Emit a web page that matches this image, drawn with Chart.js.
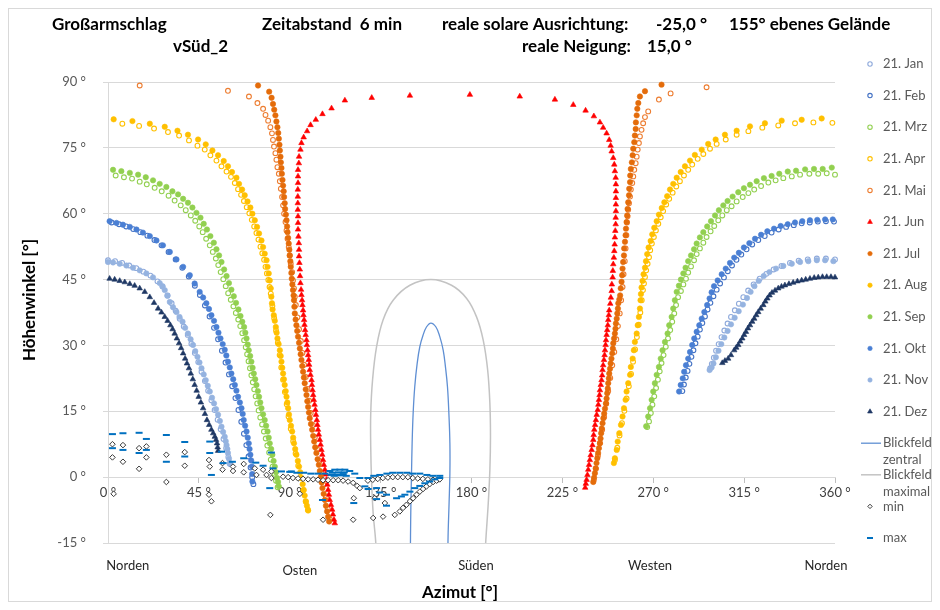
<!DOCTYPE html>
<html>
<head>
<meta charset="utf-8">
<script src="https://cdn.jsdelivr.net/npm/chart.js@4/dist/chart.umd.min.js"></script>
<style>
html,body{margin:0;padding:0;background:#fff}
#wrap{position:relative;width:940px;height:610px}
</style>
</head>
<body>
<div id="wrap"><canvas id="c" width="940" height="610"></canvas></div>
<script>
// Sun paths on the 21st of each month: [azimuth °, elevation °] pairs, 6-minute steps.
const janLeft = [[0,49.4],[3.5,49.2],[7.0,48.8],[10.5,48.2],[14.0,47.6],[17.5,46.8],[21.0,45.9],[24.5,44.6],[27.0,43.4],[29.5,41.4],[31.5,39.6],[33.5,37.9],[35.5,36.1],[37.5,34.3],[39.5,32.4],[41.3,30.4],[43.0,28.3],[44.7,26.2],[46.3,24.0],[48.0,21.9],[49.6,19.7],[51.2,17.5],[52.8,15.3],[54.3,13.1],[55.8,10.9],[57.2,8.7],[58.5,6.6],[59.6,4.6],[60.4,3.2]];
const janRight = [[360.0,49.6],[355.5,49.8],[351.0,49.8],[346.5,49.6],[342.0,49.3],[337.7,48.8],[333.5,48.1],[329.6,47.3],[326.0,46.3],[322.7,45.2],[319.7,43.9],[317.0,42.5],[314.6,41.0],[312.4,39.5],[310.4,38.0],[308.5,36.5],[306.8,35.0],[305.2,33.4],[303.8,31.9],[302.4,30.3],[301.1,28.8],[300.0,27.2],[299.0,25.8],[298.2,24.8]];

const febLeft = [[1.8,58.0],[5.5,57.6],[9.0,57.1],[12.5,56.5],[16.0,55.8],[19.5,55.0],[23.0,54.0],[26.5,52.8],[30.0,51.3],[33.5,49.6],[36.8,47.7],[40.0,45.7],[43.0,43.6],[45.5,41.5],[48.0,39.1],[50.3,36.6],[52.5,34.0],[54.5,31.4],[56.4,28.8],[58.2,26.1],[59.9,23.4],[61.5,20.7],[63.1,18.0],[64.6,15.3],[66.0,12.6],[67.3,9.9],[68.5,7.3],[69.6,4.7],[70.6,2.2],[71.4,0.0],[72.0,-1.6]];
const febRight = [[359.5,58.2],[355.5,58.3],[351.5,58.2],[347.5,58.0],[343.5,57.8],[339.6,57.4],[335.8,57.0],[332.1,56.4],[328.6,55.7],[325.2,54.9],[322.0,54.0],[319.0,53.0],[316.2,51.9],[313.6,50.7],[311.2,49.5],[309.0,48.2],[306.9,46.9],[305.0,45.5],[303.1,44.1],[301.4,42.7],[299.8,41.2],[298.3,39.7],[296.9,38.2],[295.6,36.6],[294.3,35.1],[293.1,33.6],[292.0,32.0],[290.9,30.5],[289.9,28.9],[288.9,27.4],[287.9,25.8],[287.0,24.2],[286.1,22.7],[285.2,21.1],[284.4,19.6]];

const mrzLeft = [[3.8,68.7],[7.9,68.3],[11.9,68.0],[15.7,67.3],[19.2,66.7],[23.1,65.9],[26.6,65.1],[30.0,64.1],[33.0,63.0],[36.0,61.9],[38.5,60.8],[41.0,59.6],[43.2,58.4],[45.2,57.1],[46.9,55.8],[48.6,54.3],[50.4,52.8],[51.9,51.3],[53.4,49.8],[54.6,48.3],[55.8,46.7],[57.1,45.1],[58.3,43.5],[59.5,41.9],[60.8,40.4],[62.1,38.9],[63.3,37.4],[64.5,35.9],[65.5,34.4],[66.5,32.8],[67.4,31.2],[68.2,29.6],[68.9,28.0],[69.6,26.4],[70.3,24.8],[71.0,23.2],[71.7,21.6],[72.4,20.0],[73.1,18.4],[73.9,16.8],[74.6,15.2],[75.4,13.6],[76.3,12.0],[77.2,10.4],[78.1,8.8],[78.9,7.2],[79.8,5.6],[80.6,4.0],[81.5,2.4],[82.4,0.8],[83.2,-0.8],[84.0,-2.3]];
const mrzRight = [[360.0,68.9],[355.9,69.2],[351.7,69.1],[347.3,69.1],[342.7,68.9],[338.6,68.5],[334.4,68.1],[330.6,67.6],[327.0,67.1],[323.4,66.3],[320.0,65.5],[317.1,64.7],[314.3,63.8],[311.3,62.8],[308.8,61.7],[306.4,60.8],[304.2,59.6],[302.2,58.5],[300.2,57.2],[298.4,56.0],[296.4,54.7],[294.8,53.4],[293.1,52.1],[291.5,50.8],[290.2,49.4],[288.7,48.0],[287.3,46.6],[286.2,45.2],[284.9,43.9],[283.7,42.4],[282.3,41.0],[281.3,39.2],[280.4,37.3],[279.4,35.4],[278.4,33.5],[277.3,31.6],[276.2,29.7],[275.1,27.8],[274.1,26.0],[273.2,24.1],[272.3,22.2],[271.4,20.3],[270.5,18.4],[269.6,16.5],[268.8,14.6],[267.9,12.7],[267.0,11.4]];

const aprLeft = [[7.1,80.5],[15.4,80.0],[22.8,79.4],[29.7,78.6],[35.2,77.8],[40.1,76.7],[44.3,75.5],[47.9,74.6],[50.7,73.3],[53.7,72.1],[56.2,70.8],[58.7,69.6],[60.9,68.4],[62.8,67.0],[64.4,65.6],[65.9,64.3],[67.3,62.9],[68.7,61.5],[70.0,60.1],[71.2,58.6],[72.4,57.1],[73.5,55.6],[74.5,54.1],[75.5,52.5],[76.4,51.0],[77.3,49.5],[78.0,47.9],[78.7,46.4],[79.4,44.9],[80.0,43.3],[80.6,41.8],[81.4,39.0],[82.3,36.2],[83.2,33.4],[84.1,30.6],[85.0,27.8],[85.8,25.0],[86.7,22.2],[87.6,19.4],[88.5,16.6],[89.4,13.8],[90.5,11.0],[91.7,8.2],[92.9,5.4],[94.2,2.6],[95.5,-0.2],[96.8,-3.0],[98.0,-5.6],[99.0,-7.4]];
const aprRight = [[358.7,80.7],[349.3,80.8],[340.2,80.6],[331.9,80.1],[324.0,79.6],[317.1,78.8],[311.3,78.0],[305.9,76.9],[301.4,75.9],[298.1,74.8],[294.8,73.6],[292.0,72.5],[289.3,71.2],[287.3,70.0],[285.2,68.7],[283.2,67.4],[281.4,66.2],[279.6,64.8],[277.9,63.4],[276.4,62.1],[274.9,60.6],[273.7,59.2],[272.5,57.7],[271.3,56.2],[270.3,54.7],[269.3,53.2],[268.5,51.7],[267.9,50.1],[267.2,48.6],[266.5,47.1],[265.9,45.6],[265.4,44.1],[264.9,42.6],[264.3,40.3],[263.6,37.5],[262.8,34.7],[261.9,31.9],[261.0,29.1],[260.0,26.3],[259.0,23.5],[257.9,20.7],[256.8,17.9],[255.7,15.1],[254.5,12.3],[253.3,9.5],[252.2,6.7],[251.0,3.9]];

const maiLeft = [[15.7,89.2],[59.4,88.0],[69.8,86.7],[74.0,85.2],[76.8,83.9],[78.0,82.5],[79.3,81.2],[80.4,79.7],[81.2,78.3],[81.7,76.8],[82.2,75.3],[82.9,73.8],[83.4,72.3],[83.9,70.6],[84.6,69.1],[85.1,67.4],[85.6,65.7],[86.2,63.8],[86.7,61.9],[87.2,60.0],[87.9,58.1],[88.4,56.2],[88.9,54.3],[89.5,52.4],[90.0,50.5],[90.5,48.6],[91.2,46.7],[91.6,44.8],[92.1,43.0],[92.5,41.1],[93.0,39.2],[93.8,36.4],[94.6,33.7],[95.5,31.0],[96.3,28.3],[97.1,25.6],[97.9,22.8],[98.8,20.1],[99.6,17.4],[100.4,14.6],[101.4,11.9],[102.4,9.1],[103.5,6.4],[104.7,3.7],[105.7,1.0],[106.7,-1.7],[107.9,-4.5],[108.8,-7.2],[109.8,-9.5]];
const maiRight = [[296.4,88.8],[278.6,87.4],[272.8,86.0],[267.5,83.3],[265.9,82.0],[265.0,80.6],[264.2,79.1],[263.4,77.6],[262.9,76.1],[262.3,74.6],[261.8,73.0],[261.3,71.5],[260.6,70.0],[260.1,68.5],[259.6,67.0],[258.9,65.5],[258.5,63.9],[258.0,62.4],[257.6,60.9],[257.3,59.4],[257.0,58.0],[256.7,55.1],[256.3,52.1],[255.9,49.2],[255.3,46.2],[254.8,43.3],[254.1,40.3],[253.4,37.3],[252.5,34.4],[251.7,31.4],[250.7,28.5],[249.7,25.5],[248.7,22.6],[247.7,19.6],[246.7,16.7],[245.7,13.7],[244.7,10.8],[243.6,7.8],[242.6,4.9],[241.6,1.9],[240.6,-0.6]];

const jun = [[112.3,-10.5],[111.9,-9.7],[111.4,-8.5],[111.0,-7.4],[110.4,-6.3],[109.8,-5.2],[109.4,-4.0],[109.0,-2.9],[108.6,-1.7],[108.2,-0.6],[107.8,0.6],[107.4,1.7],[106.9,2.8],[106.5,3.9],[106.1,5.1],[105.7,6.2],[105.3,7.4],[104.9,8.5],[104.4,9.7],[104.0,10.8],[103.7,11.9],[103.4,13.0],[103.0,14.2],[102.7,15.3],[102.3,16.5],[101.9,17.6],[101.6,18.7],[101.3,19.8],[101.0,21.0],[100.8,22.1],[100.3,23.3],[99.9,24.4],[99.6,25.6],[99.4,26.7],[99.1,27.8],[98.8,28.9],[98.5,30.1],[98.3,31.2],[97.9,32.4],[97.6,33.5],[97.3,34.7],[97.1,35.8],[96.8,36.9],[96.6,38.0],[96.3,39.2],[96.1,40.3],[95.8,41.5],[95.6,42.7],[95.3,44.2],[95.1,45.8],[95.0,47.3],[94.8,48.8],[94.6,50.3],[94.6,51.8],[94.5,53.3],[94.3,54.8],[94.1,56.4],[94.1,57.9],[94.1,59.4],[94.0,60.9],[94.0,62.4],[94.0,63.9],[94.0,65.5],[94.1,67.0],[94.1,68.5],[94.1,70.0],[94.5,71.5],[94.6,73.0],[95.3,74.6],[95.8,76.1],[96.9,77.4],[98.6,78.8],[100.3,80.2],[102.9,81.4],[106.2,82.7],[110.7,84.0],[117.3,85.8],[130.6,86.4],[149.5,86.9],[179.2,87.1],[203.9,86.7],[221.3,86.0],[230.4,84.8],[236.5,83.5],[240.6,82.2],[243.6,80.8],[245.2,79.6],[246.9,78.3],[248.2,76.8],[248.9,75.5],[249.4,74.2],[250.2,72.7],[250.7,71.2],[251.0,69.7],[251.4,68.2],[251.5,66.7],[251.5,65.1],[251.5,63.6],[251.5,62.1],[251.5,60.6],[251.4,59.1],[251.4,57.6],[251.2,56.1],[251.0,54.6],[250.9,53.0],[250.7,51.5],[250.5,50.0],[250.2,48.5],[250.0,47.0],[249.9,45.5],[249.5,43.9],[249.4,42.4],[249.0,40.9],[248.7,39.5],[248.2,38.0],[248.0,36.9],[247.7,35.8],[247.5,34.6],[247.2,33.5],[246.9,32.4],[246.6,31.2],[246.4,30.1],[246.1,28.9],[245.9,27.8],[245.6,26.7],[245.2,25.5],[244.9,24.4],[244.7,23.2],[244.4,22.1],[244.0,21.0],[243.6,19.8],[243.4,18.7],[243.1,17.6],[242.8,16.5],[242.5,15.3],[242.0,14.2],[241.6,13.0],[241.2,11.9],[240.8,10.8],[240.5,9.6],[240.3,8.5],[239.9,7.3],[239.5,6.2],[239.0,5.0],[238.6,3.9],[238.2,2.8],[237.8,1.7],[237.4,0.5],[237.0,-0.6],[236.6,-1.5],[236.3,-2.4]];

const julLeft = [[74.3,89.2],[79.8,87.8],[81.0,86.4],[81.7,85.0],[82.3,83.7],[82.9,82.4],[83.4,81.0],[83.9,79.7],[84.3,78.4],[84.6,77.1],[84.9,75.7],[85.1,74.4],[85.4,73.0],[85.6,71.7],[85.9,70.4],[86.1,69.1],[86.4,67.7],[86.7,66.4],[87.0,65.1],[87.2,63.8],[87.5,62.4],[87.7,61.1],[88.1,59.8],[88.4,58.5],[88.7,57.1],[88.9,55.8],[89.2,54.5],[89.5,53.2],[89.8,51.8],[90.0,50.5],[90.3,49.2],[90.5,47.9],[90.8,46.5],[91.0,45.2],[91.3,43.9],[91.6,42.6],[91.9,41.4],[92.1,40.3],[92.3,38.8],[92.5,37.3],[92.9,35.9],[93.3,34.6],[93.7,33.3],[94.1,32.0],[94.6,30.6],[95.0,29.3],[95.4,28.0],[95.8,26.7],[96.2,25.3],[96.6,24.0],[97.0,22.7],[97.4,21.4],[97.9,20.0],[98.3,18.7],[98.7,17.3],[99.1,16.0],[99.5,14.7],[99.9,13.4],[100.5,12.1],[101.1,10.8],[101.6,9.4],[102.1,8.1],[102.6,6.8],[103.2,5.5],[103.8,4.1],[104.4,2.8],[104.9,1.4],[105.4,0.1],[105.8,-1.2],[106.2,-2.5],[106.8,-3.8],[107.4,-5.2],[107.9,-6.5],[108.5,-7.8],[109.0,-9.0],[109.5,-10.1]];
const julRight = [[274.1,89.4],[265.9,87.9],[263.4,86.7],[262.6,85.2],[262.1,83.9],[261.8,82.4],[261.4,80.8],[261.3,79.3],[260.9,77.8],[260.6,76.3],[260.1,74.8],[259.8,73.3],[259.4,71.7],[258.9,70.2],[258.6,68.7],[258.5,67.2],[258.1,65.7],[258.0,64.2],[257.6,62.6],[257.3,61.1],[257.1,59.6],[256.8,58.1],[256.5,56.6],[256.3,55.1],[256.0,53.6],[255.6,52.1],[255.5,50.5],[255.1,49.0],[254.8,47.5],[254.6,46.0],[254.3,44.5],[253.9,43.0],[253.6,41.4],[253.2,40.5],[252.7,39.6],[252.5,38.4],[252.2,37.3],[251.9,36.1],[251.5,35.0],[251.3,33.8],[251.0,32.7],[250.6,31.6],[250.2,30.5],[250.0,29.3],[249.7,28.2],[249.3,27.0],[248.9,25.9],[248.6,24.7],[248.2,23.6],[248.0,22.5],[247.7,21.4],[247.5,20.2],[247.2,19.1],[246.9,17.9],[246.6,16.8],[246.1,15.6],[245.7,14.5],[245.3,13.4],[244.9,12.3],[244.5,11.1],[244.2,10.0],[243.9,8.8],[243.6,7.7],[243.1,6.6],[242.7,5.5],[242.3,4.3],[241.9,3.2],[241.5,2.0],[241.1,0.9],[240.7,-0.1],[240.3,-1.1]];

const augLeft = [[2.8,81.5],[12.1,81.1],[20.7,80.5],[28.1,79.8],[34.4,78.9],[39.6,78.0],[44.6,76.9],[48.4,75.8],[51.7,74.4],[54.5,73.3],[57.3,72.0],[59.4,70.8],[61.4,69.5],[63.6,68.2],[64.9,66.8],[66.4,65.5],[67.7,64.2],[69.1,62.8],[70.5,61.4],[71.5,60.0],[72.7,58.5],[73.8,57.0],[74.8,55.5],[76.0,53.9],[76.8,52.4],[77.6,50.9],[78.5,49.4],[79.0,47.9],[79.6,46.4],[80.1,44.8],[80.6,43.0],[80.9,41.1],[81.2,39.6],[81.5,38.2],[82.1,36.9],[82.6,35.6],[83.1,34.2],[83.5,32.9],[83.9,31.6],[84.5,30.3],[85.1,28.9],[85.5,27.6],[85.9,26.3],[86.3,24.9],[86.7,23.6],[87.1,22.3],[87.5,21.0],[88.0,19.6],[88.4,18.3],[88.8,17.0],[89.2,15.7],[89.6,14.3],[90.0,13.0],[90.6,11.7],[91.2,10.4],[91.7,9.0],[92.1,7.7],[92.7,6.4],[93.3,5.1],[94.0,3.7],[94.6,2.4],[95.2,1.1],[95.8,-0.2],[96.4,-1.6],[96.9,-2.9],[97.4,-4.2],[97.9,-5.5],[98.5,-6.5],[99.1,-7.6]];
const augRight = [[353.4,81.7],[343.5,81.4],[333.6,81.2],[325.3,80.6],[317.9,79.9],[311.3,78.9],[305.5,78.0],[300.9,76.9],[297.2,75.9],[294.0,74.6],[290.6,73.4],[288.2,72.1],[285.7,70.8],[283.6,69.5],[281.6,68.2],[279.9,66.8],[278.3,65.5],[276.9,64.0],[275.5,62.6],[274.2,61.3],[272.8,59.8],[271.7,58.3],[270.5,56.8],[269.5,55.3],[268.7,53.8],[267.7,52.3],[267.0,50.8],[266.4,49.2],[265.9,47.7],[265.2,46.2],[264.7,44.7],[264.2,43.2],[263.9,41.7],[263.7,40.3],[263.4,38.4],[262.9,36.5],[262.3,34.6],[261.8,32.7],[260.9,30.8],[260.4,28.9],[259.8,27.0],[258.9,25.1],[258.5,23.3],[257.6,21.4],[256.8,19.5],[256.3,17.6],[255.5,15.7],[254.8,13.8],[254.0,11.9],[253.2,10.0],[252.4,8.1],[251.9,6.2],[251.0,4.3],[250.5,3.2]];

const sepLeft = [[2.5,70.0],[6.6,69.7],[10.8,69.3],[14.9,68.9],[18.7,68.3],[22.3,67.6],[25.6,66.8],[28.9,66.1],[31.9,65.1],[34.7,64.4],[37.2,63.4],[39.6,62.5],[41.8,61.4],[43.8,60.2],[45.8,59.1],[47.4,57.7],[49.0,56.4],[50.7,54.9],[52.4,53.4],[53.7,51.9],[55.0,50.5],[56.2,49.0],[57.5,47.3],[58.7,45.8],[59.9,44.2],[61.1,42.7],[62.3,41.2],[63.4,39.7],[64.6,38.2],[65.6,36.7],[66.5,35.4],[67.4,34.2],[68.0,32.9],[68.6,31.6],[69.2,30.2],[69.7,28.9],[70.4,27.6],[71.0,26.3],[71.6,24.9],[72.2,23.6],[72.9,22.3],[73.5,21.0],[74.2,19.6],[74.8,18.3],[75.4,17.0],[76.0,15.7],[76.8,14.3],[77.6,13.0],[78.3,11.7],[79.0,10.4],[79.6,9.0],[80.1,7.7],[80.8,6.4],[81.4,5.1],[82.0,3.7],[82.6,2.4],[83.2,1.1],[83.7,-0.2],[84.2,-1.1],[84.6,-2.1]];
const sepRight = [[358.4,70.5],[353.9,70.2],[349.6,70.2],[345.2,70.1],[340.7,69.8],[336.6,69.6],[332.4,69.1],[328.6,68.6],[324.8,68.1],[321.2,67.4],[317.9,66.6],[314.9,65.8],[312.1,64.9],[309.3,63.9],[306.8,62.9],[304.7,61.9],[302.5,60.8],[300.6,59.6],[298.6,58.3],[296.7,57.1],[294.8,55.8],[293.1,54.6],[291.5,53.2],[290.2,51.9],[288.7,50.5],[287.3,49.2],[286.0,47.7],[284.9,46.4],[283.7,45.0],[282.7,43.6],[281.6,42.2],[280.7,40.3],[279.9,38.4],[279.1,36.5],[277.9,34.6],[277.1,32.7],[275.8,30.8],[274.6,28.9],[273.7,27.0],[272.8,25.1],[271.7,23.3],[270.8,21.4],[270.0,19.5],[269.2,17.6],[268.4,15.7],[267.5,13.8],[266.5,11.6]];

const oktLeft = [[0.8,58.3],[4.2,57.9],[7.4,57.5],[10.8,57.0],[14.1,56.4],[17.3,55.7],[20.7,54.9],[24.0,53.9],[27.2,52.8],[30.6,51.3],[33.9,49.6],[37.2,47.9],[40.5,46.0],[42.9,44.1],[45.4,42.2],[47.1,40.9],[48.7,39.6],[50.0,38.3],[51.2,36.9],[52.5,35.6],[53.7,34.2],[54.7,32.9],[55.7,31.6],[56.8,30.3],[57.8,29.0],[58.6,27.7],[59.4,26.3],[60.3,25.0],[61.1,23.6],[62.0,22.3],[62.8,21.0],[63.6,19.7],[64.4,18.3],[65.3,17.0],[66.1,15.7],[66.7,14.4],[67.2,13.0],[67.9,11.7],[68.6,10.4],[69.2,9.0],[69.7,7.7],[70.1,6.4],[70.5,5.1],[70.9,3.8],[71.3,2.4],[71.4,0.7],[71.5,-1.0]];
const oktRight = [[358.9,58.7],[355.1,58.7],[351.2,58.6],[347.6,58.5],[343.8,58.3],[340.2,58.0],[336.6,57.6],[333.1,57.2],[329.8,56.6],[326.5,56.0],[323.4,55.2],[320.4,54.3],[317.6,53.3],[314.9,52.3],[312.4,51.1],[310.1,50.0],[308.0,48.8],[305.9,47.5],[303.9,46.2],[301.9,44.8],[300.1,43.5],[298.9,42.1],[297.9,40.7],[296.7,39.2],[295.3,37.6],[294.0,36.1],[292.8,34.6],[291.5,33.1],[290.3,31.6],[289.3,30.1],[288.2,28.5],[287.3,27.0],[286.2,25.5],[285.3,24.0],[284.6,22.5],[283.6,21.0],[282.8,19.5]];

const novLeft = [[0,49.0],[2.5,48.9],[5.8,48.6],[9.1,48.2],[12.4,47.7],[15.7,47.1],[19.0,46.4],[22.3,45.5],[25.6,44.2],[27.0,43.5],[28.1,42.6],[29.4,41.3],[30.6,39.9],[32.2,38.7],[33.9,37.6],[35.4,36.5],[36.9,35.4],[38.2,34.0],[39.6,32.7],[40.9,31.4],[42.1,30.1],[43.2,28.7],[44.3,27.4],[45.3,26.1],[46.3,24.8],[47.4,23.4],[48.4,22.1],[49.4,20.8],[50.4,19.5],[51.5,18.1],[52.5,16.8],[53.5,15.5],[54.5,14.2],[55.4,12.8],[56.2,11.5],[57.0,10.3],[57.8,9.2],[58.3,8.2],[58.7,7.3],[59.1,6.4],[59.4,5.5],[59.9,4.2],[60.3,3.0]];
const novRight = [[359.2,49.2],[355.1,49.4],[351.0,49.4],[346.8,49.2],[342.7,49.0],[338.6,48.6],[334.4,48.1],[330.8,47.5],[327.5,46.7],[324.7,45.8],[322.2,44.7],[320.1,43.5],[318.2,42.2],[316.4,40.8],[314.4,39.3],[312.3,37.8],[310.3,36.3],[308.5,34.8],[306.8,33.3],[305.2,31.8],[303.7,30.3],[302.3,28.8],[301.0,27.3],[299.8,25.9],[298.9,25.0],[297.9,24.4]];

const decLeft = [[0.8,45.2],[3.3,45.0],[5.8,44.7],[8.3,44.4],[10.8,44.0],[13.2,43.6],[15.7,43.0],[18.2,42.2],[20.7,41.0],[22.8,39.7],[24.8,38.4],[26.5,37.5],[28.1,36.5],[29.5,35.6],[30.9,34.6],[32.0,33.7],[33.0,32.7],[34.1,31.6],[35.2,30.5],[36.2,29.4],[37.2,28.2],[38.2,27.0],[39.1,25.9],[40.1,24.8],[41.0,23.6],[42.0,22.3],[42.9,21.0],[43.9,19.7],[44.9,18.3],[46.0,17.0],[47.1,15.7],[48.0,14.4],[49.0,13.0],[50.1,11.9],[51.2,10.8],[52.1,10.0],[52.9,9.2],[53.5,8.5],[54.0,7.7],[54.3,6.8],[54.5,6.0]];
const decRight = [[304.2,26.0],[305.5,26.5],[307.1,27.0],[308.5,27.8],[310.1,28.9],[311.1,29.5],[312.1,30.1],[313.1,30.9],[314.1,31.6],[315.0,32.4],[315.9,33.1],[316.9,33.9],[317.9,34.6],[319.0,35.4],[320.0,36.1],[321.0,36.9],[322.0,37.6],[323.2,38.4],[324.5,39.2],[325.5,40.0],[326.5,40.7],[327.6,41.4],[328.8,42.0],[330.3,42.5],[331.9,43.0],[333.5,43.4],[335.2,43.7],[337.2,44.0],[339.3,44.3],[341.4,44.6],[343.5,44.8],[345.5,45.0],[347.6,45.2],[349.7,45.4],[351.7,45.5],[353.8,45.6],[355.9,45.6],[358.0,45.6],[360.0,45.5]];

// Field-of-view outlines
const viewCentral = [[149.7,-18.8],[149.8,-13.5],[150.0,-5.9],[150.3,0.9],[150.6,7.7],[151.1,14.5],[151.9,20.6],[153.1,25.9],[154.4,29.7],[156.0,32.3],[157.7,34.2],[159.9,35.1],[162.4,34.2],[164.3,32.0],[166.0,28.9],[167.1,25.1],[168.1,20.6],[168.8,14.5],[169.3,7.7],[169.3,0.9],[168.9,-5.9],[168.4,-13.5],[168.3,-18.8]];
const viewMaximal = [[132.9,-18.8],[132.5,-14.3],[131.3,-8.2],[130.5,-0.6],[130.1,7.0],[130.1,14.5],[131.0,22.1],[133.0,29.7],[136.2,35.8],[141.2,40.3],[149.5,43.7],[159.9,45.0],[170.1,43.7],[177.6,40.7],[182.5,36.5],[185.8,31.2],[188.0,24.4],[189.1,16.8],[189.4,9.2],[189.1,1.7],[188.3,-5.9],[187.1,-14.3],[186.6,-18.8]];

// Horizon limits
const minPts = [[2.2,7.5],[2.2,4.5],[2.8,-3.8],[7.4,7.3],[7.4,3.5],[15.4,6.6],[15.4,1.9],[19.0,7.0],[19.0,4.5],[28.9,5.1],[28.9,-1.1],[38.0,5.7],[38.0,2.6],[50.0,3.9],[50.4,2.4],[50.0,-4.0],[51.2,-5.5],[56.7,3.2],[56.7,1.7],[61.9,2.4],[61.9,1.4],[67.2,3.0],[67.2,1.1],[72.7,2.0],[73.5,0.5],[76.8,1.7],[78.5,0.5],[80.9,1.3],[80.9,-0.2],[80.4,-8.6],[95.0,-3.8],
[86.7,0.1],[89.2,0.0],[91.6,-0.2],[94.1,-0.3],[96.6,-0.4],[99.1,-0.5],[101.6,-0.5],[104.0,-0.6],[106.5,-0.7],[109.0,-0.7],[111.5,-0.7],[114.0,-0.7],[116.4,-0.8],[118.9,-1.0],[121.4,-1.3],[123.4,-2.0],
[128.7,-0.8],[131.1,-0.6],[133.6,-0.4],[136.1,-0.2],[138.6,-0.1],[141.0,0.0],[143.5,0.0],[146.0,0.0],[148.5,0.0],[150.9,-0.2],[153.4,-0.3],[155.9,-0.4],[158.4,-0.5],[160.9,-0.6],[163.3,-0.6],
[142.0,-8.6],[144.5,-7.8],[146.1,-7.0],[147.8,-6.3],[149.5,-5.5],[151.1,-4.8],[152.8,-4.0],[154.4,-3.3],[156.0,-2.7],[157.7,-2.1],[159.3,-1.6],[161.0,-1.1],[162.7,-0.8],[164.3,-0.5],
[106.5,-9.7],[121.4,-9.7],[131.3,-9.3],[136.2,-9.0],[121.7,-4.8],[124.7,-2.5],[132.1,-4.8],[137.1,-5.9]];
const maxPts = [[2.2,9.8],[2.2,6.6],[7.4,10.0],[7.4,6.2],[15.4,10.1],[15.4,5.5],[19.0,8.7],[19.0,6.2],[28.9,9.6],[28.9,3.5],[38.0,8.0],[38.0,4.7],[50.4,8.1],[50.4,5.5],[51.2,0.5],[56.2,5.8],[57.0,3.2],[61.6,3.5],[67.2,4.3],[73.2,3.3],[76.8,2.6],[80.9,5.6],[80.1,-2.5],[81.7,2.0],[85.9,1.3],[90.8,1.3],
[90.0,1.2],[93.5,1.0],[96.9,1.0],[100.4,0.8],[103.9,0.8],[107.4,0.8],[109.9,1.4],[112.3,1.7],[114.8,1.7],[117.3,1.7],[119.7,1.4],[122.2,0.8],[124.7,-0.2],
[110.5,0.5],[112.0,0.3],[113.5,0.6],[115.0,0.4],[116.5,0.7],[118.0,0.3],[111.0,1.0],[114.0,1.1],[117.0,1.1],
[128.7,-0.2],[131.6,0.3],[134.6,0.5],[138.1,0.8],[141.0,1.0],[144.5,1.0],[148.0,1.0],[150.9,0.8],[154.4,0.8],[157.9,0.5],[160.9,0.3],[164.3,0.3],
[128.8,-2.7],[133.0,-2.5],[134.6,-3.5],[137.9,-4.0],[142.9,-4.8],[145.3,-4.4],[147.0,-4.0],[149.5,-3.3],[151.9,-2.5],[154.4,-2.0],[156.9,-1.4],[159.3,-1.0],[161.8,-0.5],[164.3,-0.2],
[106.2,-5.2],[121.7,-5.9],[127.2,-2.1],[133.0,-5.0],[137.9,-6.5]];

// Axis ticks and labels
const xTickStep = 45;
const yTickStep = 15;
const compassNames = ['Norden', 'Osten', 'Süden', 'Westen', 'Norden'];
const compassAz = [9.8, 95, 182.2, 268.4, 355.5];

const headerTexts = [
  ['Großarmschlag', 52, 25], ['vSüd_2', 173, 47], ['Zeitabstand  6 min', 262, 25],
  ['reale solare Ausrichtung:', 442, 25], ['-25,0 °', 656, 25], ['155° ebenes Gelände', 729, 25],
  ['reale Neigung:', 522, 47], ['15,0 °', 647, 47]
];

const FONT = '"Lato", "Open Sans", "Liberation Sans", sans-serif';
const toXY = list => list.map(p => ({ x: p[0], y: p[1] }));

const monthSeries = [
  { label: '21. Jan', pts: janLeft.concat(janRight), style: 'circle', color: '#8EA9DB', hollow: true },
  { label: '21. Feb', pts: febLeft.concat(febRight), style: 'circle', color: '#4472C4', hollow: true },
  { label: '21. Mrz', pts: mrzLeft.concat(mrzRight), style: 'circle', color: '#92D050', hollow: true },
  { label: '21. Apr', pts: aprLeft.concat(aprRight), style: 'circle', color: '#FFC000', hollow: true },
  { label: '21. Mai', pts: maiLeft.concat(maiRight), style: 'circle', color: '#ED7D31', hollow: true },
  { label: '21. Jun', pts: jun, style: 'triangle', color: '#FF0000', hollow: false },
  { label: '21. Jul', pts: julLeft.concat(julRight), style: 'circle', color: '#E46C0A', hollow: false },
  { label: '21. Aug', pts: augLeft.concat(augRight), style: 'circle', color: '#FFC000', hollow: false },
  { label: '21. Sep', pts: sepLeft.concat(sepRight), style: 'circle', color: '#92D050', hollow: false },
  { label: '21. Okt', pts: oktLeft.concat(oktRight), style: 'circle', color: '#4A7FD4', hollow: false },
  { label: '21. Nov', pts: novLeft.concat(novRight), style: 'circle', color: '#95B3E0', hollow: false },
  { label: '21. Dez', pts: decLeft.concat(decRight), style: 'triangle', color: '#1F3864', hollow: false }
];

const datasets = monthSeries.map((s, i) => ({
  label: s.label,
  data: toXY(s.pts),
  showLine: false,
  pointStyle: s.style,
  pointRadius: s.style === 'triangle' ? 3.2 : (s.hollow ? 2.4 : 2.7),
  pointBorderWidth: s.hollow ? 1.1 : 0.6,
  pointBackgroundColor: s.hollow ? '#FFFFFF' : s.color,
  pointBorderColor: s.color,
  borderColor: s.color,
  backgroundColor: s.hollow ? '#FFFFFF' : s.color,
  clip: false,
  order: -i
}));

datasets.push({
  label: 'Blickfeld zentral', data: toXY(viewCentral), showLine: true, pointRadius: 0,
  borderColor: '#5F8FD3', backgroundColor: '#5F8FD3', borderWidth: 1.3, tension: 0.4, fill: false, order: -12
});
datasets.push({
  label: 'Blickfeld maximal', data: toXY(viewMaximal), showLine: true, pointRadius: 0,
  borderColor: '#C3C3C3', backgroundColor: '#C3C3C3', borderWidth: 1.5, tension: 0.4, fill: false, order: -13
});
datasets.push({
  label: 'min', data: toXY(minPts), showLine: false, pointStyle: 'rectRot', pointRadius: 2.8,
  pointBorderWidth: 1, pointBorderColor: '#3A3A3A', pointBackgroundColor: '#FFFFFF',
  borderColor: '#3A3A3A', backgroundColor: '#FFFFFF', clip: false, order: -14
});
datasets.push({
  label: 'max', data: toXY(maxPts), showLine: false, pointStyle: 'line', pointRadius: 3.5,
  pointBorderWidth: 2, pointBorderColor: '#0070C0', pointBackgroundColor: '#0070C0',
  borderColor: '#0070C0', backgroundColor: '#0070C0', clip: false, order: -15
});

// White background and thin outer frame
const framePlugin = {
  id: 'frame',
  beforeDraw(chart) {
    const c = chart.ctx;
    c.save();
    c.fillStyle = '#FFFFFF';
    c.fillRect(0, 0, chart.width, chart.height);
    c.strokeStyle = '#D9D9D9';
    c.lineWidth = 1;
    c.strokeRect(8.5, 8.5, chart.width - 17, chart.height - 17);
    c.restore();
  }
};

// Header, axis titles, compass names and the legend column
const textPlugin = {
  id: 'texts',
  afterDraw(chart) {
    const c = chart.ctx;
    const area = chart.chartArea;
    const xs = chart.scales.x;
    c.save();
    c.textBaseline = 'middle';

    c.fillStyle = '#000000';
    c.textAlign = 'left';
    c.font = 'bold 17px ' + FONT;
    headerTexts.forEach(t => c.fillText(t[0], t[1], t[2]));

    c.font = 'bold 17px ' + FONT;
    c.textAlign = 'center';
    c.fillText('Azimut [°]', 460, 593);
    c.save();
    c.translate(30, 300);
    c.rotate(-Math.PI / 2);
    c.fillText('Höhenwinkel [°]', 0, 0);
    c.restore();

    c.font = '13px ' + FONT;
    c.fillStyle = '#262626';
    compassNames.forEach((name, i) => {
      const y = area.bottom + (name === 'Osten' ? 28 : 23);
      c.fillText(name, xs.getPixelForValue(compassAz[i]), y);
    });

    // legend
    const markX = 870, textX = 883, top = 64, step = 31.6;
    c.textAlign = 'left';
    c.font = '13px ' + FONT;
    chart.data.datasets.forEach((ds, i) => {
      const y = top + i * step;
      if (ds.showLine) {
        c.strokeStyle = ds.borderColor;
        c.lineWidth = ds.borderWidth;
        c.beginPath();
        c.moveTo(861, y);
        c.lineTo(881, y);
        c.stroke();
        const parts = ds.label.split(' ');
        c.fillStyle = '#595959';
        c.fillText(parts[0], textX, y);
        c.fillText(parts.slice(1).join(' '), textX, y + 17);
      } else {
        c.fillStyle = ds.pointBackgroundColor;
        c.strokeStyle = ds.pointBorderColor;
        c.lineWidth = ds.pointBorderWidth;
        Chart.helpers.drawPoint(c, {
          pointStyle: ds.pointStyle, rotation: 0,
          radius: ds.pointStyle === 'line' ? 3 : (ds.pointStyle === 'triangle' ? 2.8 : 2.2),
          borderWidth: ds.pointBorderWidth
        }, markX, y);
        c.fillStyle = '#595959';
        c.fillText(ds.label, textX, y);
      }
    });
    c.restore();
  }
};

new Chart(document.getElementById('c'), {
  type: 'scatter',
  data: { datasets },
  options: {
    responsive: false,
    animation: false,
    devicePixelRatio: 1,
    events: [],
    layout: { padding: { left: 0, right: 105, top: 82, bottom: 67 } },
    plugins: { legend: { display: false }, tooltip: { enabled: false } },
    scales: {
      x: {
        type: 'linear', min: 0, max: 360,
        position: { y: 0 },
        afterFit: s => { s.height = 0; },
        ticks: {
          stepSize: xTickStep, autoSkip: false, maxRotation: 0, padding: 3,
          color: '#404040', font: { family: FONT, size: 13 },
          callback: v => v + ' °'
        },
        grid: { display: true, drawOnChartArea: false, drawTicks: true, tickLength: 5, color: '#BFBFBF', tickColor: '#BFBFBF' },
        border: { display: true, color: '#D9D9D9', width: 1 }
      },
      y: {
        type: 'linear', min: -15, max: 90,
        afterFit: s => { s.width = 108; },
        ticks: {
          stepSize: yTickStep, padding: 17,
          color: '#595959', font: { family: FONT, size: 13 },
          callback: v => v + ' °'
        },
        grid: { color: '#D9D9D9', tickColor: '#D9D9D9', tickLength: 5, lineWidth: 1 },
        border: { display: true, color: '#D9D9D9', width: 1 }
      }
    }
  },
  plugins: [framePlugin, textPlugin]
});
</script>
</body>
</html>
